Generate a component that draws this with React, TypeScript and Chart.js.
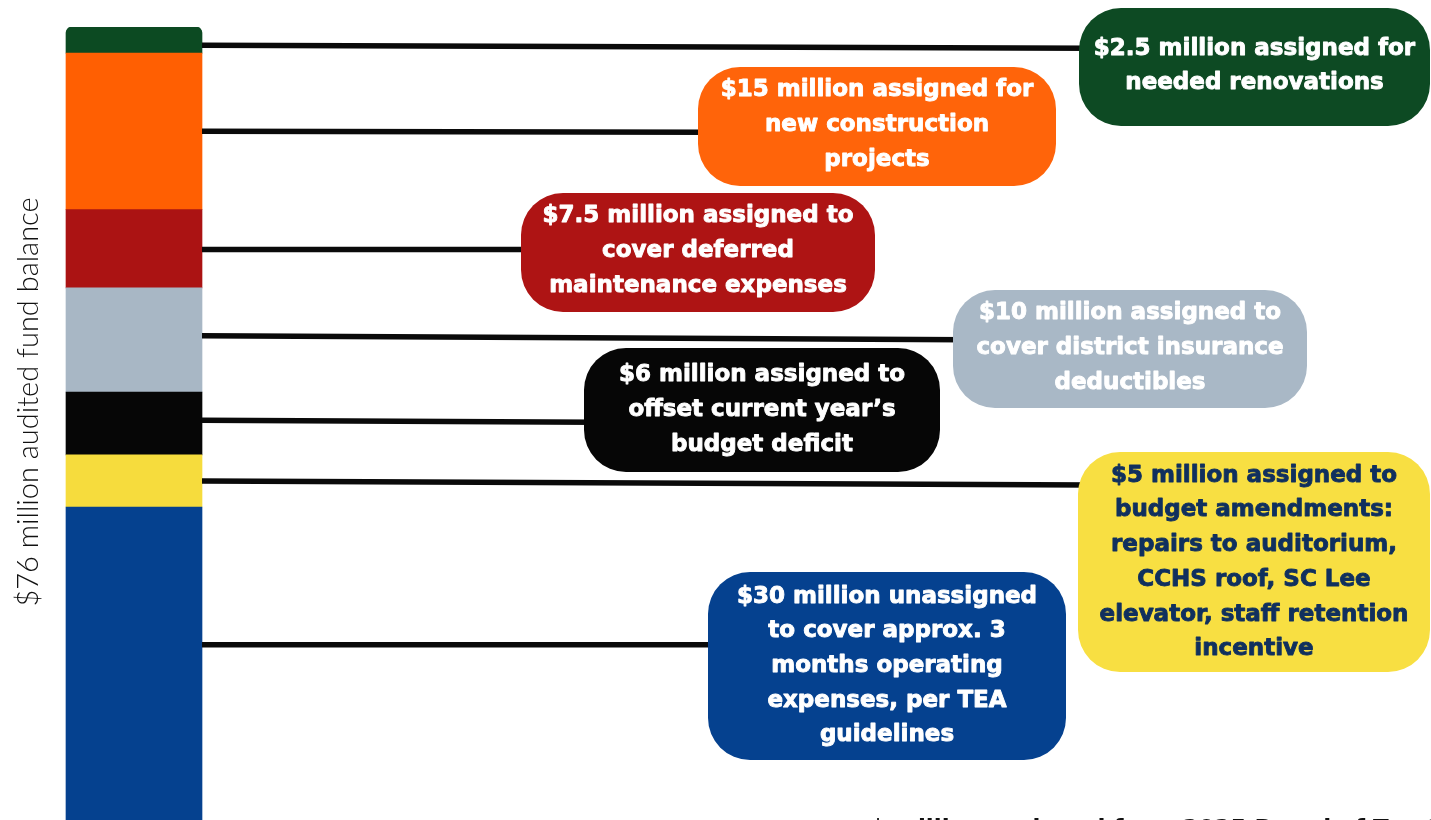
import React, { useEffect, useRef } from 'react';
import { Chart, registerables } from 'chart.js';

Chart.register(...registerables);

// ---- data ----
const categories = ['Fund balance'];
const segmentNames = [
  'Unassigned (3 months operating expenses)',
  'Budget amendments',
  'Offset current year budget deficit',
  'District insurance deductibles',
  'Deferred maintenance',
  'New construction projects',
  'Needed renovations',
];
const segmentValues = [30, 5, 6, 10, 7.5, 15, 2.5];
const axisTitle = '$76 million audited fund balance';
const calloutText = [
  ['$30 million unassigned', 'to cover approx. 3', 'months operating', 'expenses, per TEA', 'guidelines'],
  ['$5 million assigned to', 'budget amendments:', 'repairs to auditorium,', 'CCHS roof, SC Lee', 'elevator, staff retention', 'incentive'],
  ['$6 million assigned to', 'offset current year\u2019s', 'budget deficit'],
  ['$10 million assigned to', 'cover district insurance', 'deductibles'],
  ['$7.5 million assigned to', 'cover deferred', 'maintenance expenses'],
  ['$15 million assigned for', 'new construction', 'projects'],
  ['$2.5 million assigned for', 'needed renovations'],
];
const footnote = '$ million assigned from 2025 Board of Trustees';

// ---- styles / layout ----
const barColors = ['#05418f', '#f6dc3d', '#060606', '#a8b7c5', '#ab1313', '#ff5f02', '#0c4a22'];
const boxColors = ['#05418f', '#f8df42', '#060606', '#a9b8c6', '#ae1414', '#ff640a', '#0d4a23'];
const textColors = ['#ffffff', '#10305e', '#ffffff', '#ffffff', '#ffffff', '#ffffff', '#ffffff'];
const boxRects = [
  [708, 572, 1066, 760],
  [1078, 452, 1430, 672],
  [584, 348, 940, 472],
  [953, 290, 1307, 408],
  [521, 193, 875, 312],
  [698, 67, 1056, 186],
  [1079, 8, 1430, 126],
];
const boxTextDy = [0, 0.5, 0, -1, -1.5, -1.5, -1];
const leaderFrac = [0.44, 0.5, 0.45, 0.46, 0.51, 0.5, 0.7];
const leaderEndDy = [0, 4, 2, 4, 0, 1, 3];

const W = 1431;
const H = 820;

const calloutPlugin = {
  id: 'callouts',
  afterDatasetsDraw(chart: any) {
    const ctx: CanvasRenderingContext2D = chart.ctx;
    ctx.save();
    // leader lines
    segmentValues.forEach((_, i) => {
      const el = chart.getDatasetMeta(i).data[0] as any;
      if (!el) return;
      const top = Math.min(el.y, el.base);
      const bottom = Math.max(el.y, el.base);
      const y0 = top + (bottom - top) * leaderFrac[i];
      const x0 = el.x + el.width / 2;
      const x1 = boxRects[i][0] + 12;
      ctx.beginPath();
      ctx.moveTo(x0, y0);
      ctx.lineTo(x1, y0 + leaderEndDy[i]);
      ctx.lineWidth = 5.5;
      ctx.strokeStyle = '#0a0a0a';
      ctx.stroke();
    });
    // boxes and text
    segmentValues.forEach((_, i) => {
      const [x1, y1, x2, y2] = boxRects[i];
      ctx.beginPath();
      (ctx as any).roundRect(x1, y1, x2 - x1, y2 - y1, 42);
      ctx.fillStyle = boxColors[i];
      ctx.fill();
      const lines = calloutText[i];
      const lh = 34.7;
      const cx = (x1 + x2) / 2;
      const cy = (y1 + y2) / 2 + boxTextDy[i];
      ctx.fillStyle = textColors[i];
      ctx.strokeStyle = textColors[i];
      ctx.lineWidth = 0.9;
      ctx.lineJoin = 'round';
      ctx.font = 'bold 23px "DejaVu Sans"';
      ctx.textAlign = 'center';
      ctx.textBaseline = 'middle';
      lines.forEach((t, k) => {
        const y = cy + (k - (lines.length - 1) / 2) * lh;
        ctx.fillText(t, cx, y);
        ctx.strokeText(t, cx, y);
      });
    });
    // axis title
    ctx.save();
    ctx.translate(29, 402);
    ctx.rotate(-Math.PI / 2);
    ctx.font = '300 29px Lato';
    ctx.fillStyle = '#111111';
    ctx.textAlign = 'center';
    ctx.textBaseline = 'middle';
    ctx.fillText(axisTitle, 0, 0);
    ctx.restore();
    // clipped footnote
    ctx.font = 'bold 23px "DejaVu Sans"';
    ctx.fillStyle = '#111111';
    ctx.textAlign = 'left';
    ctx.textBaseline = 'alphabetic';
    ctx.fillText(footnote, 870, 836);
    ctx.restore();
  },
};

export default function App() {
  const ref = useRef<HTMLCanvasElement | null>(null);
  useEffect(() => {
    document.body.style.margin = '0';
    const canvas = ref.current;
    if (!canvas) return;
    const chart = new Chart(canvas, {
      type: 'bar',
      data: {
        labels: categories,
        datasets: segmentValues.map((v, i) => ({
          label: segmentNames[i],
          data: [v],
          backgroundColor: barColors[i],
          borderWidth: 0,
          barThickness: 136,
          borderRadius: i === segmentValues.length - 1 ? { topLeft: 6, topRight: 6, bottomLeft: 0, bottomRight: 0 } : 0,
          borderSkipped: i === segmentValues.length - 1 ? false : 'start',
        })),
      },
      options: {
        responsive: false,
        animation: false,
        devicePixelRatio: 1,
        layout: { padding: { left: 48, right: W - 220, top: 27, bottom: 0 } },
        plugins: { legend: { display: false }, tooltip: { enabled: false }, title: { display: false } },
        scales: {
          x: { stacked: true, display: false },
          y: { stacked: true, display: false, min: 0, max: 76 },
        },
      },
      plugins: [calloutPlugin],
    } as any);
    return () => chart.destroy();
  }, []);
  return (
    <div style={{ position: 'fixed', left: 0, top: 0, width: W, height: H, background: '#ffffff', overflow: 'hidden' }}>
      <canvas ref={ref} width={W} height={H} style={{ display: 'block' }} />
    </div>
  );
}
